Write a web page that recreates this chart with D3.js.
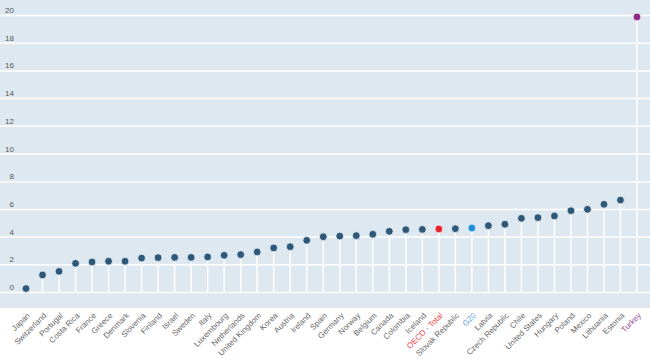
<!DOCTYPE html>
<html>
<head>
<meta charset="utf-8">
<script src="https://cdn.jsdelivr.net/npm/d3@7"></script>
<style>
  html, body { margin: 0; padding: 0; background: #ffffff; }
  svg { display: block; }
</style>
</head>
<body>
<svg id="chart" width="650" height="360"></svg>
<script>
const categories = ["Japan","Switzerland","Portugal","Costa Rica","France","Greece","Denmark","Slovenia","Finland","Israel","Sweden","Italy","Luxembourg","Netherlands","United Kingdom","Korea","Austria","Ireland","Spain","Germany","Norway","Belgium","Canada","Colombia","Iceland","OECD - Total","Slovak Republic","G20","Latvia","Czech Republic","Chile","United States","Hungary","Poland","Mexico","Lithuania","Estonia","Turkey"];
const values = [0.25,1.23,1.49,2.07,2.17,2.22,2.22,2.45,2.48,2.5,2.5,2.53,2.65,2.7,2.89,3.18,3.27,3.73,3.99,4.04,4.07,4.17,4.38,4.5,4.52,4.55,4.57,4.62,4.79,4.89,5.32,5.37,5.49,5.87,5.97,6.33,6.64,19.86];
const yTicks = [0,2,4,6,8,10,12,14,16,18,20];
const highlight = {"OECD - Total": {dot: "#e9232b", label: "#ef3f4a"}, "G20": {dot: "#1f8ede", label: "#5b9fe6"}, "Turkey": {dot: "#8f2a8c", label: "#9a4e98"}};

const W = 650, H = 360;
const svg = d3.select("#chart");
const panelBottom = 308;
const y = d3.scaleLinear().domain([0, 20]).range([292, 15]);
const x = d3.scalePoint().domain(categories).range([26, 637]);

svg.append("rect").attr("x", 0).attr("y", 0).attr("width", W).attr("height", panelBottom).attr("fill", "#dee8f0");

// gridlines
const yAxis = d3.axisLeft(y).tickValues(yTicks).tickSize(-W).tickFormat(d3.format("d"));
const gy = svg.append("g").attr("transform", "translate(0,0)").call(yAxis);
gy.select(".domain").remove();
gy.selectAll(".tick line").attr("x1", 0).attr("x2", W).attr("stroke", "#ffffff").attr("stroke-width", 1.5);
gy.selectAll(".tick text")
  .attr("x", 14).attr("dy", "-2.5")
  .attr("text-anchor", "end")
  .attr("fill", "#555555")
  .style("font-family", "'Liberation Sans', Arial, sans-serif")
  .style("font-size", "8px");

// stems
svg.append("g").selectAll("line").data(categories).join("line")
  .attr("x1", d => x(d)).attr("x2", d => x(d))
  .attr("y1", (d, i) => y(values[i])).attr("y2", y(0))
  .attr("stroke", "#ffffff").attr("stroke-width", 1.5);

// dots
svg.append("g").selectAll("circle").data(categories).join("circle")
  .attr("cx", d => x(d)).attr("cy", (d, i) => y(values[i]))
  .attr("r", 3.9)
  .attr("fill", d => highlight[d] ? highlight[d].dot : "#2d5878")
  .attr("stroke", "#f4f8fb").attr("stroke-width", 0.8);

// x labels
const xAxis = d3.axisBottom(x).tickSize(0);
const gx = svg.append("g").attr("transform", "translate(0,316)").call(xAxis);
gx.select(".domain").remove();
gx.selectAll(".tick text")
  .attr("x", 0).attr("y", 0).attr("dy", 0)
  .attr("transform", "translate(4,0) rotate(-45)")
  .attr("text-anchor", "end")
  .attr("fill", d => highlight[d] ? highlight[d].label : "#666666")
  .style("font-family", "'Liberation Sans', Arial, sans-serif")
  .style("font-size", "8px");
</script>
</body>
</html>
